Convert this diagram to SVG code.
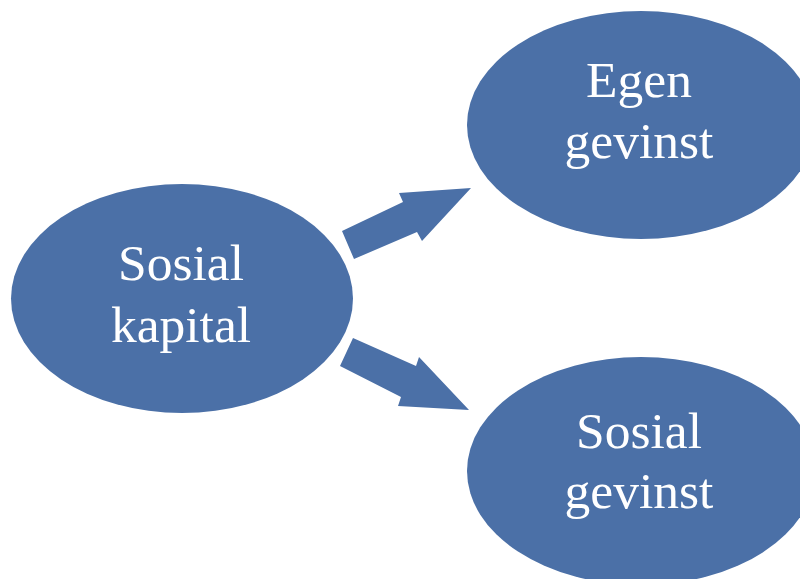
<svg xmlns="http://www.w3.org/2000/svg" width="800" height="579" viewBox="0 0 800 579">
<style>
.node{fill:#4b70a7;}
.arrow{fill:#4b70a7;}
.lbl{font-family:"Liberation Serif","Times New Roman",serif;font-size:51.5px;fill:#ffffff;text-anchor:middle;}
</style>
<rect width="800" height="579" fill="#ffffff"/>
<g id="connectors">
<polygon class="arrow" points="342,231 403,202 399,193 471,188 422,241 417,232 354,259"/>
<polygon class="arrow" points="353,338 416,366 419,357 469,410 398,406 401,397 340,366"/>
</g>
<g id="sosial-kapital">
<ellipse class="node" cx="182" cy="298.5" rx="171" ry="114.5"/>
<text class="lbl" x="181" y="280">Sosial</text>
<text class="lbl" x="181" y="342">kapital</text>
</g>
<g id="egen-gevinst">
<ellipse class="node" cx="641" cy="125" rx="174" ry="114"/>
<text class="lbl" x="639" y="97">Egen</text>
<text class="lbl" x="639" y="158">gevinst</text>
</g>
<g id="sosial-gevinst">
<ellipse class="node" cx="641" cy="471" rx="174" ry="114"/>
<text class="lbl" x="639" y="448">Sosial</text>
<text class="lbl" x="639" y="508">gevinst</text>
</g>
</svg>
